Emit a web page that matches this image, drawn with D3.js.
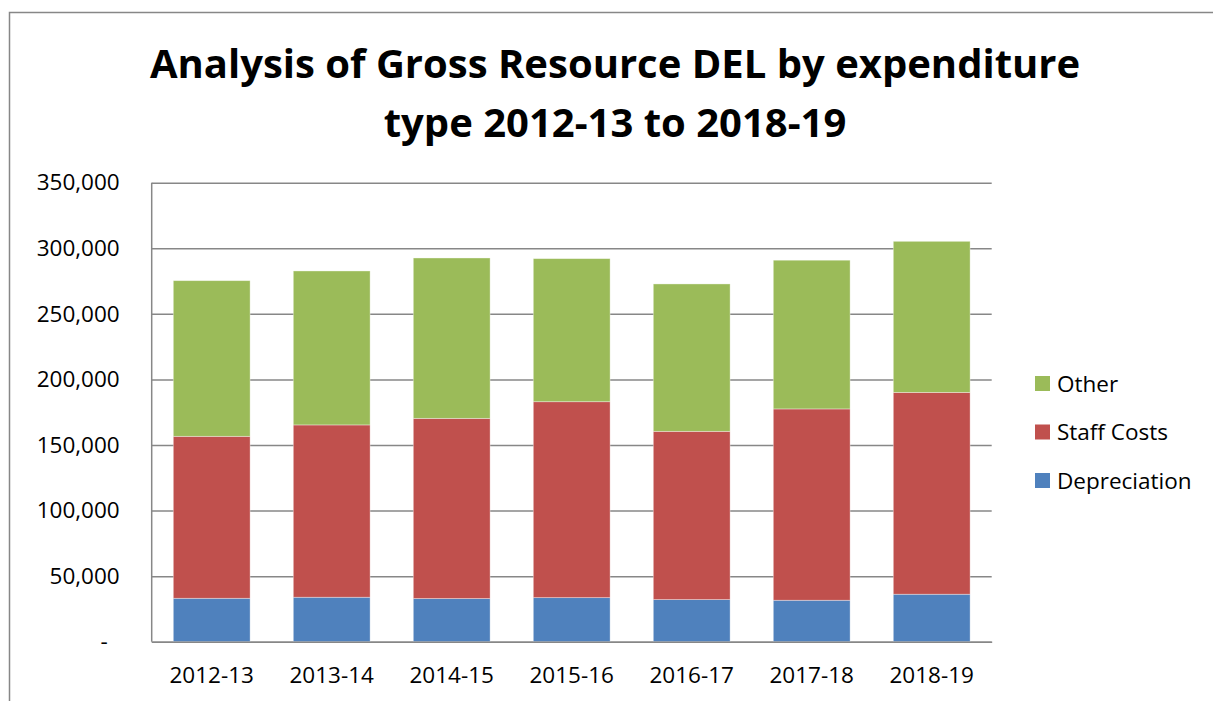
<!DOCTYPE html>
<html>
<head>
<meta charset="utf-8">
<script src="https://cdn.jsdelivr.net/npm/d3@7"></script>
<style>
  body { margin: 0; background: #fff; }
  svg { display: block; font-family: 'Open Sans', sans-serif; }
</style>
</head>
<body>
<script>
// Chart data
const years = ['2012-13', '2013-14', '2014-15', '2015-16', '2016-17', '2017-18', '2018-19'];
const depreciation = [33100, 33900, 32900, 33600, 32100, 31600, 36200];
const staffCosts = [123500, 131400, 137400, 149400, 128300, 145900, 153900];
const other = [118700, 117400, 122300, 109100, 112400, 113400, 115200];
const seriesNames = ['Depreciation', 'Staff Costs', 'Other'];
const seriesColors = ['#4F81BD', '#C0504D', '#9BBB59'];
const yTicks = [0, 50000, 100000, 150000, 200000, 250000, 300000, 350000];

const fullWidth = 1213;
const fullHeight = 701;
const plot = { left: 151.7, right: 991.7, top: 182.7, bottom: 641.7 };
const gridColor = '#878787';

const svg = d3.select('body')
  .append('svg')
  .attr('width', fullWidth)
  .attr('height', fullHeight);

// Outer chart border (runs off the right and bottom edges)
svg.append('path')
  .attr('d', `M9.5,${fullHeight + 2} V12.5 H${fullWidth + 2}`)
  .attr('fill', 'none')
  .attr('stroke', gridColor)
  .attr('stroke-width', 1.5);

// Title
const title = svg.append('text')
  .attr('text-anchor', 'middle')
  .style('font-family', "'Open Sans', sans-serif")
  .style('font-weight', 'bold')
  .style('font-size', '40px')
  .attr('fill', '#000');
title.append('tspan').attr('x', 615).attr('y', 78).text('Analysis of Gross Resource DEL by expenditure');
title.append('tspan').attr('x', 615).attr('y', 137).text('type 2012-13 to 2018-19');

// Scales
const x = d3.scaleBand()
  .domain(years)
  .range([plot.left, plot.right])
  .paddingInner(0.36)
  .paddingOuter(0.18);

const y = d3.scaleLinear()
  .domain([0, 350000])
  .range([plot.bottom, plot.top]);

// Stack the series
const rows = years.map((yr, i) => ({
  year: yr,
  Depreciation: depreciation[i],
  'Staff Costs': staffCosts[i],
  Other: other[i]
}));
const stacked = d3.stack().keys(seriesNames)(rows);

// Gridlines + y axis labels
const yAxis = d3.axisLeft(y)
  .tickValues(yTicks)
  .tickSize(-(plot.right - plot.left))
  .tickPadding(32)
  .tickFormat(d => d === 0 ? '-' : d3.format(',')(d));

const yg = svg.append('g')
  .attr('transform', `translate(${plot.left},0)`)
  .call(yAxis);
yg.select('.domain').remove();
yg.selectAll('line')
  .attr('stroke', gridColor)
  .attr('stroke-width', 1.5);
yg.selectAll('text')
  .attr('fill', '#000')
  .style('font-size', '22.5px')
  .style('font-family', "'Open Sans', sans-serif");
yg.selectAll('.tick')
  .filter(d => d === 0)
  .select('text')
  .attr('dx', -12);

// Left axis line
svg.append('line')
  .attr('x1', plot.left).attr('x2', plot.left)
  .attr('y1', plot.top).attr('y2', plot.bottom)
  .attr('stroke', gridColor)
  .attr('stroke-width', 1.5);

// Bars
svg.append('g')
  .selectAll('g')
  .data(stacked)
  .enter()
  .append('g')
  .attr('fill', (d, i) => seriesColors[i])
  .selectAll('rect')
  .data(d => d)
  .enter()
  .append('rect')
  .attr('x', d => x(d.data.year))
  .attr('y', d => y(d[1]))
  .attr('width', x.bandwidth())
  .attr('height', d => y(d[0]) - y(d[1]))
  .attr('stroke', '#ffffff')
  .attr('stroke-opacity', 0.45)
  .attr('stroke-width', 0.8);

// Bottom axis
const xAxis = d3.axisBottom(x).tickSize(0).tickPadding(25);
const xg = svg.append('g')
  .attr('transform', `translate(0,${plot.bottom})`)
  .call(xAxis);
xg.select('.domain')
  .attr('stroke', gridColor)
  .attr('stroke-width', 1.5);
xg.selectAll('text')
  .attr('fill', '#000')
  .style('font-size', '22.5px')
  .style('font-family', "'Open Sans', sans-serif");

// Legend (top to bottom: Other, Staff Costs, Depreciation)
const legendOrder = [2, 1, 0];
const legend = svg.append('g')
  .attr('transform', 'translate(1035,376)');

const item = legend.selectAll('g')
  .data(legendOrder)
  .enter()
  .append('g')
  .attr('transform', (d, i) => `translate(0,${i * 48.5})`);

item.append('rect')
  .attr('width', 15)
  .attr('height', 15)
  .attr('fill', d => seriesColors[d]);

item.append('text')
  .attr('x', 22)
  .attr('y', 15.5)
  .style('font-size', '22.5px')
  .attr('fill', '#000')
  .text(d => seriesNames[d]);
</script>
</body>
</html>
